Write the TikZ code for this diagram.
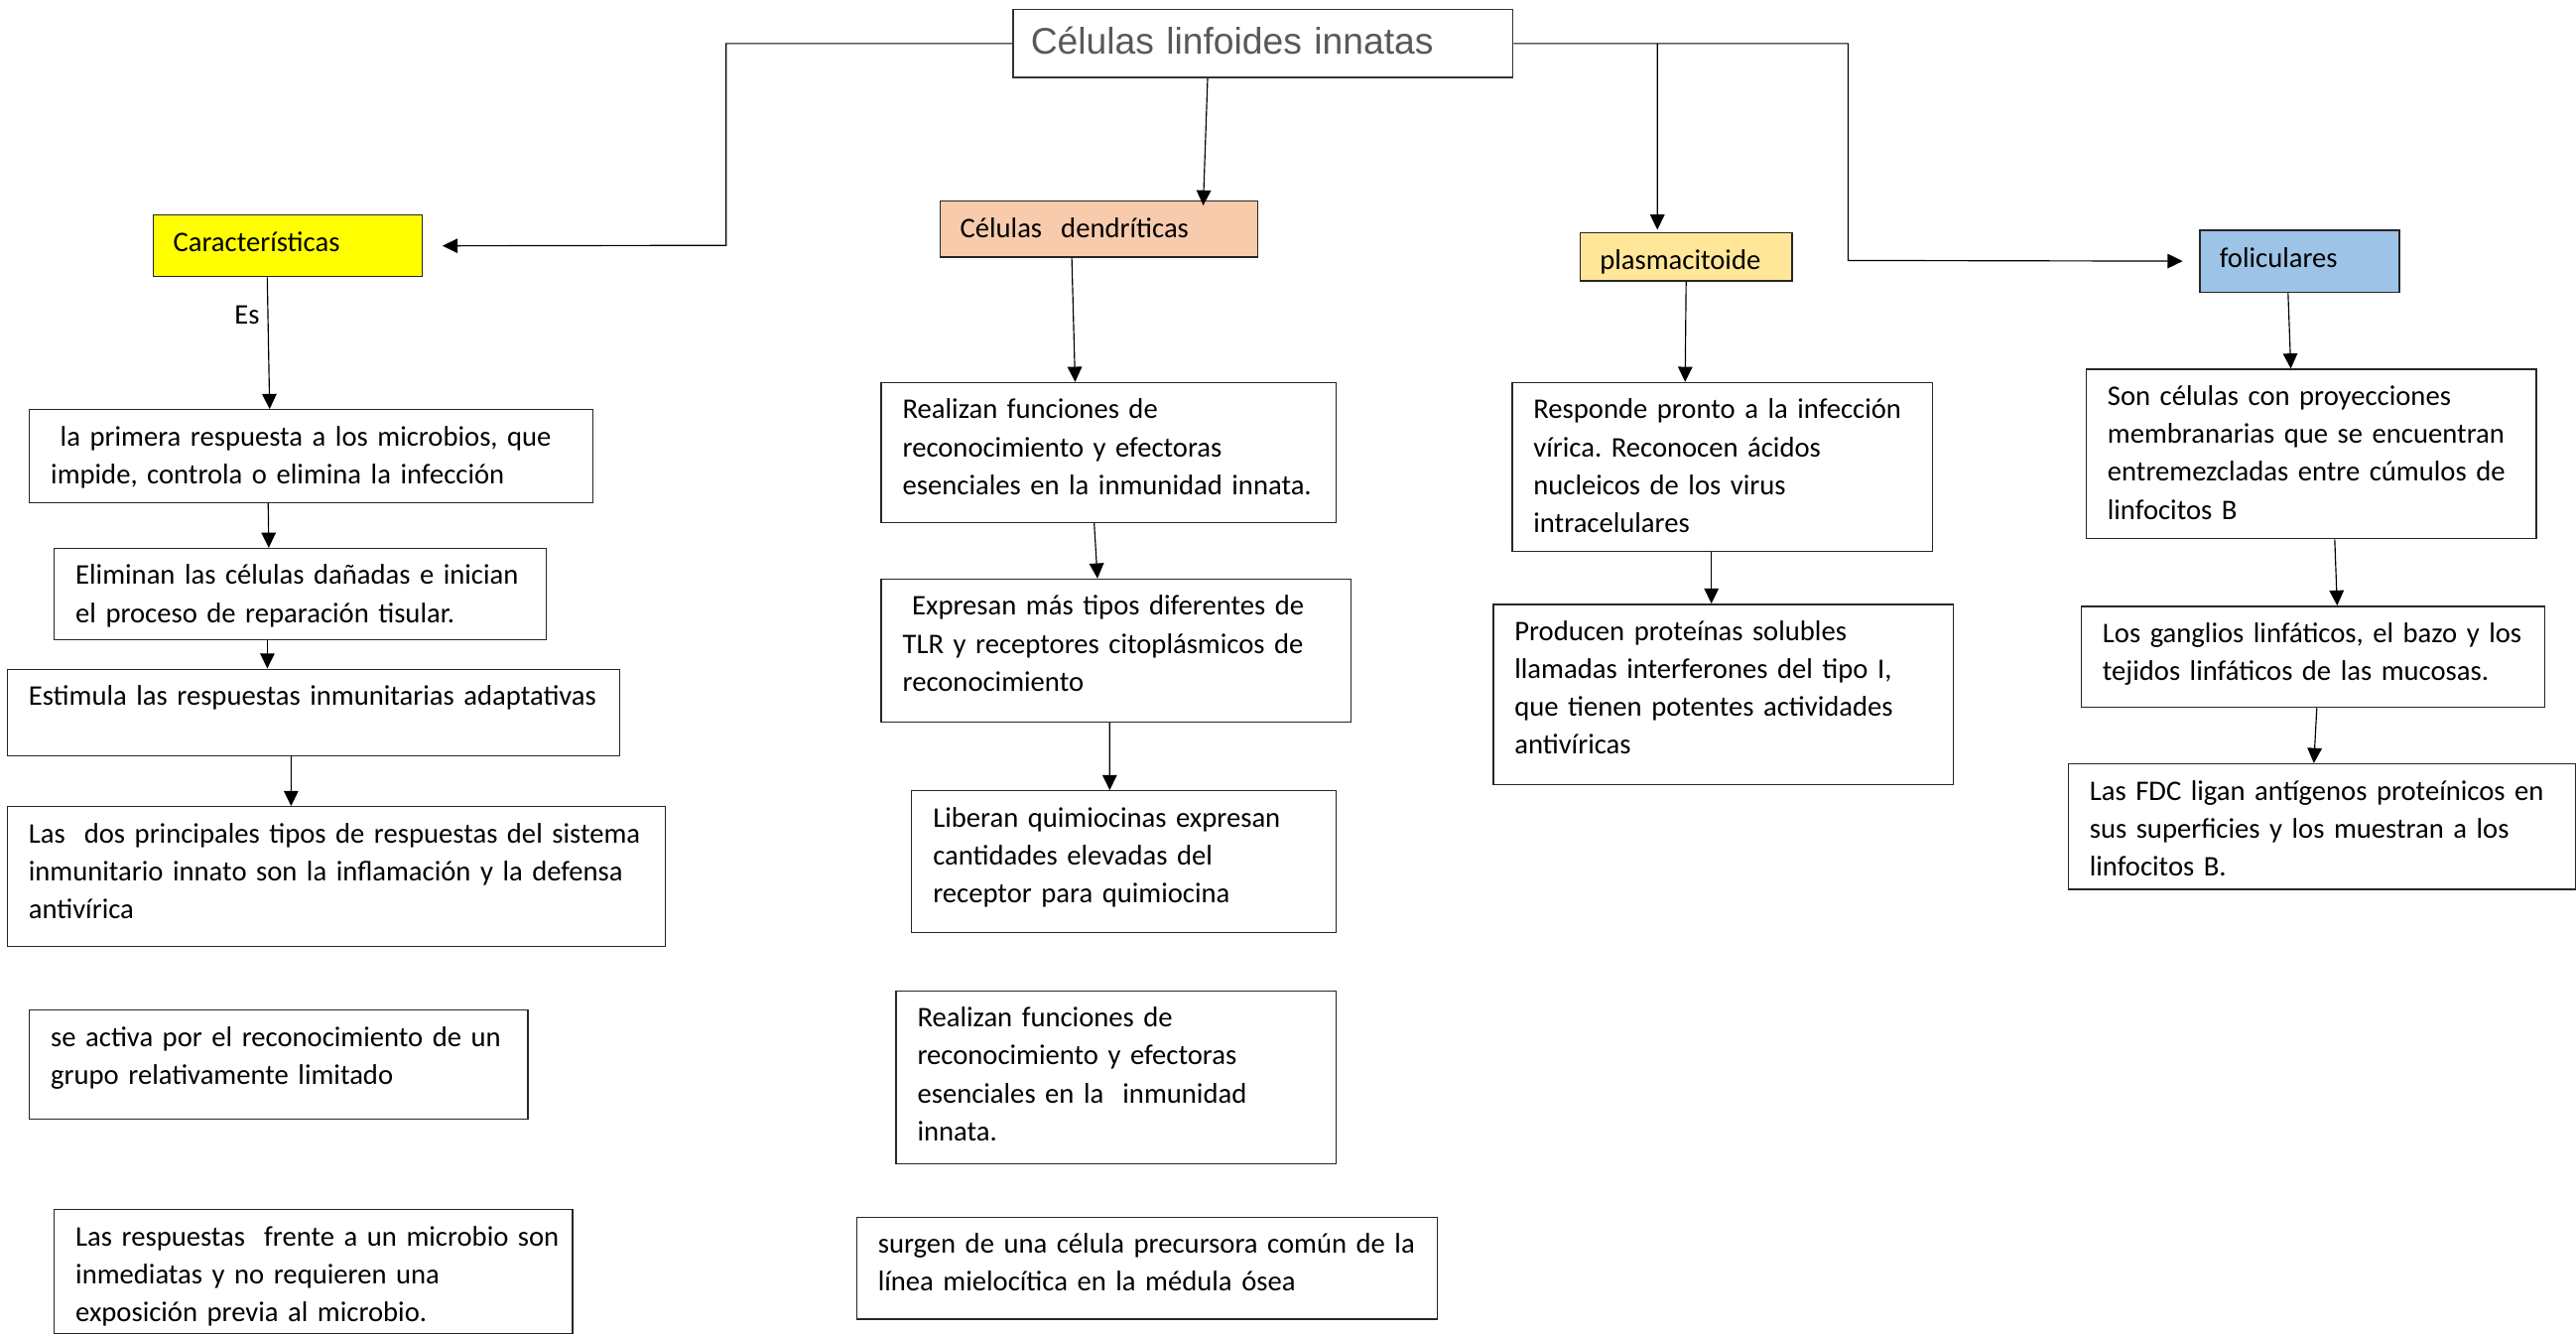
\documentclass[tikz,border=0pt]{standalone}
\usepackage{fontspec}
\setmainfont{Carlito}
\newfontfamily\titlefont{Liberation Sans}
\usetikzlibrary{arrows.meta,calc}
\newlength{\unidad}\setlength{\unidad}{0.025cm}
\definecolor{amarillo}{HTML}{FFFF00}
\definecolor{salmon}{HTML}{F8CBAD}
\definecolor{crema}{HTML}{FFE699}
\definecolor{celeste}{HTML}{9DC3E6}
\definecolor{gristit}{HTML}{595959}

\tikzset{
  texto/.style={font=\fontsize{12.3}{16.4}\selectfont\frenchspacing},
  caja/.style 2 args={texto, draw=black!85, line width=0.6pt, anchor=north west,
    inner xsep=0.325cm, inner ysep=0pt, align=left, text width={(#1-26)*\unidad},
    text height=0.55cm, text depth={(#2-22)*\unidad},
    execute at begin node={\rightskip=0pt plus 1fil minus 4em\relax}},
  etiq/.style 2 args={texto, draw=black!85, line width=0.6pt, anchor=north west,
    inner xsep=0.3cm, inner ysep=0pt, align=left, text width={(#1-24)*\unidad},
    text height=0.56cm, text depth={(#2-22.5)*\unidad}},
  flecha/.style={draw=black, line width=0.5pt, -{Triangle[length=0.23cm,width=0.22cm]}}
}

\begin{document}
\begin{tikzpicture}[x=0.025cm, y=-0.025cm]
\useasboundingbox (0,0) rectangle (1568,812);

% titulo
\node[draw=black!80, line width=0.6pt, anchor=north west, inner xsep=0.27cm, inner ysep=0pt,
  align=left, text width={282.7*\unidad}, text height={27.3*\unidad}, text depth={14*\unidad},
  font=\titlefont\fontsize{16}{19}\selectfont, text=gristit] (titulo) at (616.2,5.4) {Células linfoides innatas};

% cabeceras de color
\node[etiq={163.5}{37.5}, fill=amarillo] (caract) at (93,130.5) {Características};
\node[etiq={193.3}{34}, fill=salmon] (dendr) at (572,122) {Células\ \ dendríticas};
\node[etiq={129}{29.2}, fill=crema] (plasm) at (961.4,141.3) {plasmacitoide};
\node[etiq={121.4}{37.7}, fill=celeste] (folic) at (1338.6,139.7) {foliculares};

% columna 1
\node[caja={343}{56.5}] (prim) at (17.5,248.9) {\ la primera respuesta a los microbios, que\\impide, controla o elimina la infección};
\node[caja={299.4}{55.7}] (elim) at (32.6,333.3) {Eliminan las células dañadas e inician\\el proceso de reparación tisular.};
\node[caja={372.6}{52.7}] (estim) at (4,406.8) {Estimula las respuestas inmunitarias adaptativas};
\node[caja={400.7}{85.1}] (tipos) at (4,490.5) {Las\ \ dos principales tipos de respuestas del sistema\\inmunitario innato son la inflamación y la defensa\\antivírica};
\node[caja={303.5}{66.3}] (activa) at (17.5,614.3) {se activa por el reconocimiento de un\\grupo relativamente limitado};
\node[caja={315.4}{75.3}] (inmed) at (32.6,735.7) {Las respuestas\ \ frente a un microbio son\\inmediatas y no requieren una\\exposición previa al microbio.};

% columna 2
\node[caja={277}{85.2}] (realiz) at (536,232.4) {Realizan funciones de\\reconocimiento y efectoras\\esenciales en la inmunidad innata.};
\node[caja={286}{87}] (expr) at (536,352) {\ Expresan más tipos diferentes de\\TLR y receptores citoplásmicos de\\reconocimiento};
\node[caja={258.5}{86.2}] (liber) at (554.5,480.8) {Liberan quimiocinas expresan\\cantidades elevadas del\\receptor para quimiocina};
\node[caja={268}{105.1}] (realizb) at (545,602.5) {Realizan funciones de\\reconocimiento y efectoras\\esenciales en la\ \ inmunidad\\innata.};
\node[caja={353.4}{62}] (surgen) at (521,740.2) {surgen de una célula precursora común de la\\línea mielocítica en la médula ósea};

% columna 3
\node[caja={256}{102.6}] (respon) at (920,232.4) {Responde pronto a la infección\\vírica. Reconocen ácidos\\nucleicos de los virus\\intracelulares};
\node[caja={280}{109.7}] (produc) at (908.5,367.3) {Producen proteínas solubles\\llamadas interferones del tipo I,\\que tienen potentes actividades\\antivíricas};

% columna 4
\node[caja={274}{103.1}] (proyec) at (1269.4,224.3) {Son células con proyecciones\\membranarias que se encuentran\\entremezcladas entre cúmulos de\\linfocitos B};
\node[caja={282}{61.5}] (gangl) at (1266.4,368.5) {Los ganglios linfáticos, el bazo y los\\tejidos linfáticos de las mucosas.};
\node[caja={309}{76.4}] (fdc) at (1258.5,464.4) {Las FDC ligan antígenos proteínicos en\\sus superficies y los muestran a los\\linfocitos B.};

% conectores desde el titulo
\coordinate (codoizq) at (442,149.3);
\coordinate (cododer) at (1125,158.5);
\draw[flecha, shorten >=0.3cm] (titulo.west) -| (codoizq) -- (caract.east);
\draw[flecha, shorten >=0.25cm] (titulo.east) -| (cododer) -- (folic.west);
\draw[flecha] ($(titulo.south)+(-33.7,0)$) -- ($(dendr.north)+(63.3,3)$);
\draw[flecha] ($(titulo.east)+(87.5,0)$) -- ($(plasm.north)+(-17.5,-1.5)$);

% conectores de las columnas
\draw[flecha] ($(caract.south)+(-12.5,0)$) -- ($(prim.north)+(-25.3,0)$)
  node[texto, pos=0.29, anchor=east, inner sep=0pt, xshift=-0.12cm] (es) {Es};
\foreach \de/\dx/\a/\ax in {prim/-26.2/elim/-19.1, elim/-20/estim/-28, estim/-13.5/tipos/-27.6,
    dendr/-16.7/realiz/-20.5, realiz/-8.9/expr/-11.4, expr/-4/liber/-8.7,
    plasm/0/respon/-22.7, respon/-6.7/produc/-7.2,
    folic/-7/proyec/-12.4, proyec/14.3/gangl/14.8, gangl/2.4/fdc/-5}
  \draw[flecha] ($(\de.south)+(\dx,0)$) -- ($(\a.north)+(\ax,0)$);

\end{tikzpicture}
\end{document}
